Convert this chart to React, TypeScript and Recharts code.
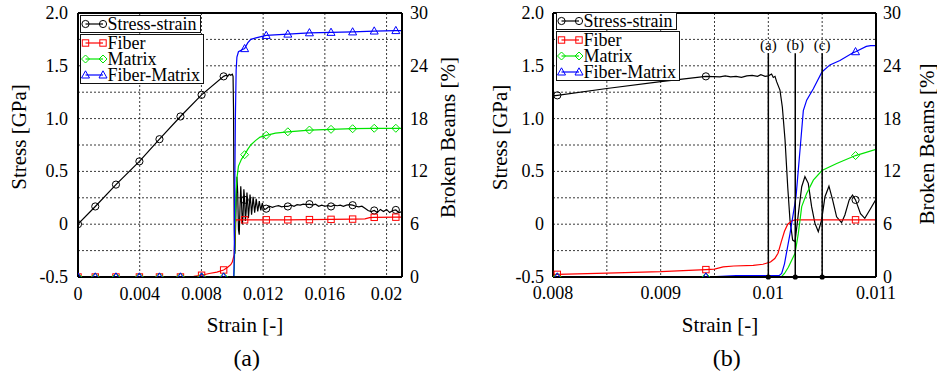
import React from 'react';
import {
  ComposedChart,
  Line,
  XAxis,
  YAxis,
  CartesianGrid,
  ReferenceLine,
  ReferenceDot,
  Legend,
} from 'recharts';

type Pt = [number, number] | [number, number, number];
type Row = { x: number; y: number; m: boolean };

const FONT = "'Liberation Serif', 'Times New Roman', serif";

// ---------- series meta ----------
const seriesNames = ['Stress-strain', 'Fiber', 'Matrix', 'Fiber-Matrix'];
const seriesColors = ['#000000', '#ff0000', '#00e400', '#0000ff'];
const seriesShapes = ['circle', 'square', 'diamond', 'triangle'];

// ---------- axes ----------
const stressTicks = [-0.5, 0, 0.5, 1, 1.5, 2];
const stressTickLabels = ['-0.5', '0', '0.5', '1.0', '1.5', '2.0'];
const beamsTicks = [0, 6, 12, 18, 24, 30];
const beamsTickLabels = ['0', '6', '12', '18', '24', '30'];
const stressGrid = [-0.25, 0, 0.25, 0.5, 0.75, 1, 1.25, 1.5, 1.75];

const strainTicksA = [0, 0.004, 0.008, 0.012, 0.016, 0.02];
const strainTickLabelsA = ['0', '0.004', '0.008', '0.012', '0.016', '0.02'];
const strainGridA = [0.002, 0.004, 0.006, 0.008, 0.01, 0.012, 0.014, 0.016, 0.018, 0.02];

const strainTicksB = [0.008, 0.009, 0.01, 0.011];
const strainTickLabelsB = ['0.008', '0.009', '0.01', '0.011'];
const strainGridB = [0.0085, 0.009, 0.0095, 0.01, 0.0105];

const eventStrainsB = [0.01, 0.01025, 0.0105];
const eventLabelsB = ['(a)', '(b)', '(c)'];
const eventTopStress = 1.62;

// ---------- panel (a) data: [strain, value, marker?] ----------
const stressStrainA: Pt[] = [
  [0, 0, 1], [0.00112, 0.168, 1], [0.00246, 0.375, 1], [0.00398, 0.595, 1], [0.00528, 0.805, 1],
  [0.00664, 1.02, 1], [0.00801, 1.225, 1], [0.00944, 1.4, 1],
  [0.0096, 1.41], [0.0097, 1.4], [0.0098, 1.42], [0.0099, 1.41], [0.01, 1.42], [0.01005, 1.4],
  [0.01008, 1.1], [0.0101, 0.5], [0.01013, -0.05], [0.01017, -0.28], [0.0102, -0.1], [0.01025, 0.2],
  [0.0103, 0.45], [0.01035, 0.3], [0.0104, -0.05], [0.01045, -0.1], [0.0105, 0.15], [0.01055, 0.36],
  [0.0106, 0.2], [0.01065, 0.0], [0.0107, 0.08], [0.01075, 0.33], [0.0108, 0.23, 1], [0.01085, 0.03],
  [0.0109, 0.12], [0.01095, 0.3], [0.011, 0.2], [0.01105, 0.06], [0.0111, 0.16], [0.01115, 0.28],
  [0.0112, 0.2], [0.01125, 0.09], [0.0113, 0.17], [0.01135, 0.26], [0.0114, 0.19], [0.01145, 0.11],
  [0.0115, 0.17], [0.01155, 0.24], [0.0116, 0.18], [0.01165, 0.12], [0.0117, 0.17], [0.01175, 0.22],
  [0.0118, 0.17], [0.01185, 0.13], [0.0119, 0.17], [0.01195, 0.2], [0.012, 0.16], [0.0121, 0.14],
  [0.0122, 0.147, 1], [0.0124, 0.17], [0.0126, 0.16], [0.0128, 0.17], [0.013, 0.175], [0.0132, 0.165],
  [0.0134, 0.17], [0.0136, 0.168, 1], [0.0138, 0.18], [0.014, 0.17], [0.0142, 0.185], [0.0144, 0.18],
  [0.0146, 0.19], [0.0148, 0.185], [0.015, 0.19, 1], [0.0152, 0.18], [0.0154, 0.19], [0.0156, 0.17],
  [0.0158, 0.18], [0.016, 0.17], [0.0162, 0.175], [0.0164, 0.168, 1], [0.0166, 0.18], [0.0168, 0.175],
  [0.017, 0.18], [0.0172, 0.17], [0.0174, 0.18], [0.0176, 0.185], [0.0178, 0.18, 1], [0.018, 0.17],
  [0.0182, 0.165], [0.0184, 0.17], [0.0186, 0.15], [0.0188, 0.13], [0.019, 0.12], [0.0192, 0.13, 1],
  [0.0194, 0.11], [0.0196, 0.14], [0.0198, 0.12], [0.02, 0.14], [0.0202, 0.11], [0.0204, 0.13],
  [0.0206, 0.135, 1], [0.0208, 0.11], [0.021, 0.12],
];

const fiberA: Pt[] = [
  [0, 0, 1], [0.00112, 0, 1], [0.00246, 0, 1], [0.00398, 0, 1], [0.00528, 0, 1], [0.00664, 0, 1],
  [0.0071, 0.02], [0.0075, 0.08], [0.00801, 0.2, 1], [0.0085, 0.4], [0.009, 0.55], [0.00944, 0.8, 1],
  [0.0097, 1.1], [0.0099, 1.4], [0.01, 1.7], [0.01012, 2.5], [0.01017, 4.5], [0.0102, 6.2],
  [0.01025, 6.5], [0.0108, 6.5, 1], [0.0122, 6.5, 1], [0.0136, 6.5, 1], [0.015, 6.52, 1],
  [0.0164, 6.55, 1], [0.0178, 6.58, 1], [0.0186, 6.6], [0.0189, 6.75], [0.0192, 6.78, 1],
  [0.0206, 6.8, 1], [0.021, 6.8],
];

const matrixA: Pt[] = [
  [0, 0, 1], [0.00112, 0, 1], [0.00246, 0, 1], [0.00398, 0, 1], [0.00528, 0, 1], [0.00664, 0, 1],
  [0.00801, 0, 1], [0.00944, 0, 1], [0.0101, 0], [0.01013, 1.0], [0.01016, 4], [0.0102, 7.5],
  [0.01025, 9.8], [0.0103, 11.2], [0.0104, 12.6], [0.0106, 13.4], [0.0108, 13.9, 1], [0.011, 14.5],
  [0.0112, 15.0], [0.0115, 15.5], [0.0118, 15.9], [0.0122, 16.1, 1], [0.0128, 16.35],
  [0.0136, 16.5, 1], [0.015, 16.7, 1], [0.0164, 16.78, 1], [0.0178, 16.85, 1], [0.0192, 16.9, 1],
  [0.0206, 16.9, 1], [0.021, 16.9],
];

const fiberMatrixA: Pt[] = [
  [0, 0, 1], [0.00112, 0, 1], [0.00246, 0, 1], [0.00398, 0, 1], [0.00528, 0, 1], [0.00664, 0, 1],
  [0.00801, 0, 1], [0.00944, 0, 1], [0.0101, 0], [0.01013, 3], [0.01016, 10], [0.0102, 18],
  [0.01025, 23.5], [0.0103, 25], [0.0104, 25.6], [0.0106, 25.8], [0.0108, 25.95, 1], [0.011, 26.6],
  [0.0112, 27.0], [0.0116, 27.2], [0.0122, 27.45, 1], [0.0136, 27.6, 1], [0.015, 27.75, 1],
  [0.0164, 27.8, 1], [0.0178, 27.85, 1], [0.0192, 27.95, 1], [0.0206, 28.0, 1], [0.021, 28.0],
];

// ---------- panel (b) data ----------
const stressStrainB: Pt[] = [
  [0.008, 1.215], [0.00804, 1.22, 1], [0.0085, 1.285], [0.009, 1.35], [0.00942, 1.4, 1],
  [0.00955, 1.395], [0.0096, 1.405], [0.00965, 1.395], [0.0097, 1.4], [0.00975, 1.39], [0.0098, 1.405],
  [0.00985, 1.41], [0.0099, 1.4], [0.00993, 1.415], [0.00997, 1.4], [0.01, 1.405], [0.01003, 1.422],
  [0.010046, 1.39], [0.010062, 1.4], [0.010077, 1.35], [0.010108, 1.27], [0.01013, 1.11],
  [0.010155, 0.8], [0.01018, 0.355], [0.010201, 0.04], [0.010226, -0.15], [0.010248, -0.166],
  [0.010279, 0.1], [0.01031, 0.355], [0.01034, 0.45], [0.010371, 0.387], [0.010402, 0.166],
  [0.010433, 0.008], [0.010464, -0.07], [0.010495, 0.04], [0.010526, 0.26], [0.010563, 0.36],
  [0.010597, 0.23], [0.010634, 0.07], [0.01068, 0.014], [0.010711, 0.087], [0.010751, 0.23],
  [0.010782, 0.276], [0.01081, 0.23, 1], [0.010856, 0.1], [0.010896, 0.056], [0.010942, 0.134],
  [0.011, 0.236],
];

const fiberB: Pt[] = [
  [0.008, 0.3], [0.00804, 0.3, 1], [0.0085, 0.45], [0.009, 0.6], [0.00942, 0.84, 1], [0.0095, 0.9],
  [0.00958, 1.14], [0.00968, 1.25], [0.00986, 1.33], [0.00995, 1.45], [0.01002, 1.7], [0.01006, 2.1],
  [0.01009, 2.7], [0.01012, 4.0], [0.01015, 5.2], [0.01018, 6.0], [0.01022, 6.4], [0.01025, 6.5],
  [0.01081, 6.5, 1], [0.011, 6.5],
];

const matrixB: Pt[] = [
  [0.008, 0], [0.00804, 0, 1], [0.00942, 0, 1], [0.01012, 0], [0.01015, 0.4], [0.010186, 1.1],
  [0.010248, 2.7], [0.010278, 4.9], [0.01031, 8.0], [0.010356, 9.5], [0.010418, 11.0],
  [0.010498, 12.1], [0.010635, 12.9], [0.01081, 13.8, 1], [0.011, 14.5],
];

const fiberMatrixB: Pt[] = [
  [0.008, 0], [0.00804, 0, 1], [0.00942, 0, 1], [0.0097, 0.15], [0.0101, 0.15], [0.010124, 0.4],
  [0.01015, 1.5], [0.010201, 4.9], [0.010257, 9.1], [0.010294, 14.4], [0.010325, 18.9],
  [0.010356, 20.1], [0.010418, 21.4], [0.010498, 23.3], [0.010572, 24.1], [0.010665, 24.6],
  [0.01079, 25.5], [0.01081, 25.6, 1], [0.01091, 26.2], [0.01095, 26.3], [0.011, 26.3],
];

const toRows = (pts: Pt[]): Row[] =>
  pts.map((p) => ({ x: p[0], y: p[1], m: p.length > 2 && !!p[2] }));

const labelFor = (ticks: number[], labels: string[], v: number) => {
  const k = ticks.findIndex((t) => Math.abs(t - v) < 1e-9);
  return k >= 0 ? labels[k] : String(v);
};

const makeTick = (ticks: number[], labels: string[]) => (props: any) => {
  const { x, y, payload, textAnchor } = props;
  return (
    <text
      x={x}
      y={y}
      textAnchor={textAnchor}
      dominantBaseline="central"
      fill="#000"
      style={{ fontFamily: FONT, fontSize: '18px' }}
    >
      {labelFor(ticks, labels, payload.value)}
    </text>
  );
};

function Marker({ shape, color, cx, cy }: { shape: string; color: string; cx: number; cy: number }) {
  const sw = 1;
  if (shape === 'circle')
    return <circle cx={cx} cy={cy} r={3.6} fill="none" stroke={color} strokeWidth={sw} />;
  if (shape === 'square')
    return <rect x={cx - 3.2} y={cy - 3.2} width={6.4} height={6.4} fill="none" stroke={color} strokeWidth={sw} />;
  if (shape === 'diamond')
    return (
      <polygon
        points={`${cx},${cy - 4} ${cx + 4},${cy} ${cx},${cy + 4} ${cx - 4},${cy}`}
        fill="none"
        stroke={color}
        strokeWidth={sw}
      />
    );
  return (
    <polygon
      points={`${cx},${cy - 4.2} ${cx + 4},${cy + 3} ${cx - 4},${cy + 3}`}
      fill="none"
      stroke={color}
      strokeWidth={sw}
    />
  );
}

const makeDot = (shape: string, color: string) => (props: any) => {
  const { cx, cy, payload, index } = props;
  if (!payload || !payload.m || cx == null || cy == null) return <g key={`e${index}`} />;
  return (
    <g key={`d${index}`}>
      <Marker shape={shape} color={color} cx={cx} cy={cy} />
    </g>
  );
};

function LegendRow({ i }: { i: number }) {
  return (
    <div style={{ display: 'flex', alignItems: 'center', height: 16, lineHeight: '16px', whiteSpace: 'nowrap' }}>
      <svg width={27} height={16} style={{ display: 'block', flex: 'none' }}>
        <line x1={4.5} y1={8} x2={22} y2={8} stroke={seriesColors[i]} strokeWidth={1.2} />
        <Marker shape={seriesShapes[i]} color={seriesColors[i]} cx={4.5} cy={8} />
        <Marker shape={seriesShapes[i]} color={seriesColors[i]} cx={22} cy={8} />
      </svg>
      <span style={{ paddingRight: 3 }}>{seriesNames[i]}</span>
    </div>
  );
}

function LegendBoxes() {
  const box: React.CSSProperties = {
    border: '1.5px solid #111',
    background: '#fff',
    width: 'fit-content',
    boxSizing: 'border-box',
  };
  return (
    <div style={{ fontFamily: FONT, fontSize: 18, color: '#000' }}>
      <div style={box}>
        <LegendRow i={0} />
      </div>
      <div style={{ ...box, marginTop: 1.5 }}>
        {[1, 2, 3].map((i) => (
          <LegendRow key={i} i={i} />
        ))}
      </div>
    </div>
  );
}

type PanelProps = {
  left: number;
  width: number;
  yLeftW: number;
  yRightW: number;
  leftTickMargin: number;
  rightTickMargin: number;
  xTickMargin: number;
  xDomain: [number, number];
  xTicks: number[];
  xTickLabels: string[];
  xGrid: number[];
  series: Pt[][];
  events?: { x: number; label: string }[];
  legendPos: { x: number; y: number };
  titles: {
    stress: [number, number];
    beams: [number, number];
    strain: [number, number];
    caption: [number, number];
  };
  caption: string;
};

function Panel(p: PanelProps) {
  const rows = p.series.map(toRows);
  const [sx, sy] = p.titles.stress;
  const [bx, by] = p.titles.beams;
  const titleStyle: React.CSSProperties = { fontFamily: FONT, fontSize: '21px' };
  return (
    <div style={{ position: 'absolute', left: p.left, top: 0, width: p.width, height: 380 }}>
      <ComposedChart width={p.width} height={380} margin={{ top: 13, right: 0, bottom: 43, left: 0 }}>
        <CartesianGrid
          yAxisId="left"
          stroke="#222"
          strokeWidth={0.9}
          strokeDasharray="2 2"
          horizontalValues={stressGrid}
          verticalValues={p.xGrid}
        />
        <XAxis
          dataKey="x"
          type="number"
          domain={p.xDomain}
          ticks={p.xTicks}
          allowDataOverflow
          tick={makeTick(p.xTicks, p.xTickLabels)}
          tickLine={false}
          tickSize={0}
          tickMargin={p.xTickMargin}
          axisLine={{ stroke: '#000', strokeWidth: 2 }}
          height={60}
          label={() => (
            <g>
              <text
                x={p.titles.strain[0]}
                y={p.titles.strain[1]}
                textAnchor="middle"
                dominantBaseline="central"
                fill="#000"
                style={titleStyle}
              >
                Strain [-]
              </text>
              <text
                x={p.titles.caption[0]}
                y={p.titles.caption[1]}
                textAnchor="middle"
                dominantBaseline="central"
                fill="#000"
                style={{ fontFamily: FONT, fontSize: '24px' }}
              >
                {p.caption}
              </text>
            </g>
          )}
        />
        <YAxis
          yAxisId="left"
          orientation="left"
          type="number"
          domain={[-0.5, 2]}
          ticks={stressTicks}
          allowDataOverflow
          tick={makeTick(stressTicks, stressTickLabels)}
          tickLine={false}
          tickSize={0}
          tickMargin={p.leftTickMargin}
          axisLine={{ stroke: '#000', strokeWidth: 2 }}
          width={p.yLeftW}
          label={() => (
            <text
              x={sx}
              y={sy}
              transform={`rotate(-90 ${sx} ${sy})`}
              textAnchor="middle"
              dominantBaseline="central"
              fill="#000"
              style={titleStyle}
            >
              Stress [GPa]
            </text>
          )}
        />
        <YAxis
          yAxisId="right"
          orientation="right"
          type="number"
          domain={[0, 30]}
          ticks={beamsTicks}
          allowDataOverflow
          tick={makeTick(beamsTicks, beamsTickLabels)}
          tickLine={false}
          tickSize={0}
          tickMargin={p.rightTickMargin}
          axisLine={{ stroke: '#000', strokeWidth: 2 }}
          width={p.yRightW}
          label={() => (
            <text
              x={bx}
              y={by}
              transform={`rotate(-90 ${bx} ${by})`}
              textAnchor="middle"
              dominantBaseline="central"
              fill="#000"
              style={titleStyle}
            >
              Broken Beams [%]
            </text>
          )}
        />
        <ReferenceLine yAxisId="left" y={2} stroke="#000" strokeWidth={2} />
        {rows.map((r, i) => (
          <Line
            key={seriesNames[i]}
            data={r}
            dataKey="y"
            yAxisId={i === 0 ? 'left' : 'right'}
            type="linear"
            stroke={seriesColors[i]}
            strokeWidth={1.2}
            dot={makeDot(seriesShapes[i], seriesColors[i])}
            activeDot={false}
            isAnimationActive={false}
            name={seriesNames[i]}
          />
        ))}
        {(p.events || []).map((e) => (
          <ReferenceLine
            key={'l' + e.label}
            yAxisId="left"
            segment={[
              { x: e.x, y: -0.5 },
              { x: e.x, y: eventTopStress },
            ]}
            stroke="#000"
            strokeWidth={1.5}
            label={(lp: any) => {
              const vb = lp && lp.viewBox ? lp.viewBox : { x: 0, y: 0, width: 0 };
              return (
                <text
                  x={vb.x + (vb.width || 0) / 2}
                  y={vb.y - 3}
                  textAnchor="middle"
                  fill="#000"
                  style={{ fontFamily: FONT, fontSize: '15px' }}
                >
                  {e.label}
                </text>
              );
            }}
          />
        ))}
        {(p.events || []).map((e) => (
          <ReferenceDot key={'d' + e.label} yAxisId="left" x={e.x} y={-0.5} r={2.6} fill="#000" stroke="none" />
        ))}
        <Legend
          layout="horizontal"
          verticalAlign="middle"
          align="center"
          content={() => <LegendBoxes />}
          wrapperStyle={{ position: 'absolute', left: p.legendPos.x, top: p.legendPos.y, width: 'auto', height: 'auto' }}
        />
      </ComposedChart>
    </div>
  );
}

export default function App() {
  return (
    <div style={{ position: 'absolute', left: 0, top: 0, width: 937, height: 380, background: '#fff' }}>
      <Panel
        left={0}
        width={470}
        yLeftW={78}
        yRightW={68}
        leftTickMargin={10}
        rightTickMargin={8}
        xTickMargin={17}
        xDomain={[0, 0.021]}
        xTicks={strainTicksA}
        xTickLabels={strainTickLabelsA}
        xGrid={strainGridA}
        series={[stressStrainA, fiberA, matrixA, fiberMatrixA]}
        legendPos={{ x: 79.5, y: 14.5 }}
        titles={{ stress: [19, 137], beams: [448, 137.5], strain: [245, 325], caption: [246.7, 358] }}
        caption="(a)"
      />
      <Panel
        left={470}
        width={467}
        yLeftW={83}
        yRightW={61}
        leftTickMargin={9}
        rightTickMargin={7}
        xTickMargin={16}
        xDomain={[0.008, 0.011]}
        xTicks={strainTicksB}
        xTickLabels={strainTickLabelsB}
        xGrid={strainGridB}
        series={[stressStrainB, fiberB, matrixB, fiberMatrixB]}
        events={eventStrainsB.map((x, i) => ({ x, label: eventLabelsB[i] }))}
        legendPos={{ x: 85.5, y: 11.5 }}
        titles={{ stress: [30, 137.5], beams: [456.5, 144], strain: [250, 325], caption: [256.7, 358] }}
        caption="(b)"
      />
    </div>
  );
}
